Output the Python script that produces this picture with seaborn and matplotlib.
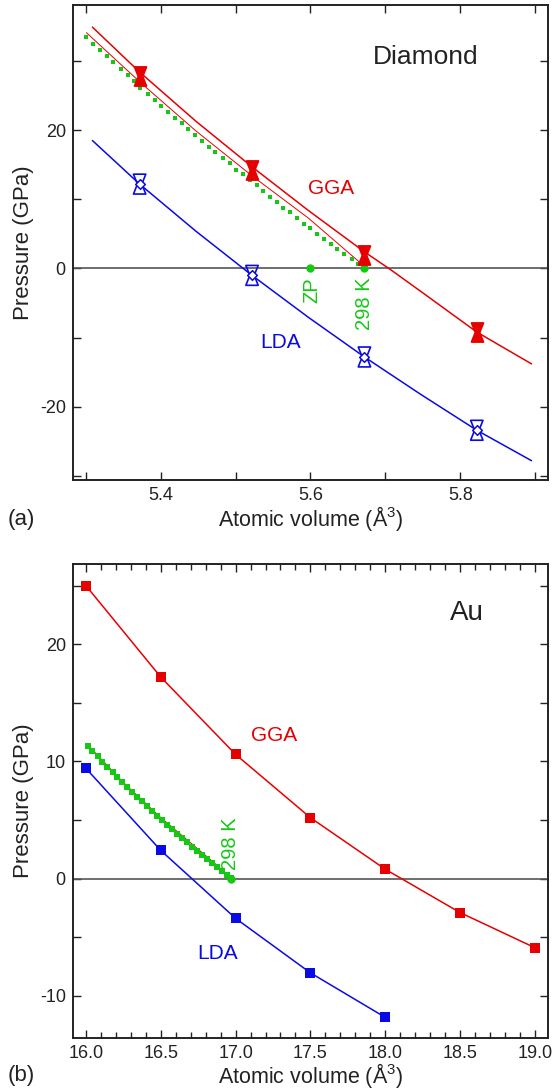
import numpy as np
import matplotlib
matplotlib.use("Agg")
import matplotlib.pyplot as plt
from matplotlib.path import Path
from matplotlib.markers import MarkerStyle
from matplotlib.ticker import MultipleLocator
import seaborn as sns

# ---------------- data: panel (a) Diamond ----------------
DIA_VOL = [5.372, 5.522, 5.672, 5.822]
DIA_GGA_P = [27.9, 14.3, 2.0, -9.2]
DIA_LDA_P = [12.2, -1.0, -12.8, -23.4]

DIA_GGA_CURVE_X = [5.309, 5.372, 5.447, 5.522, 5.597, 5.672, 5.706, 5.747, 5.822, 5.895]
DIA_GGA_CURVE_Y = [34.9, 28.4, 21.3, 14.7, 8.4, 2.4, -0.1, -3.3, -9.2, -13.8]
DIA_LDA_CURVE_X = [5.309, 5.372, 5.447, 5.522, 5.597, 5.672, 5.747, 5.822, 5.895]
DIA_LDA_CURVE_Y = [18.5, 12.2, 5.4, -1.0, -7.05, -12.8, -18.2, -23.4, -27.8]
DIA_THIN_X = [5.301, 5.373, 5.447, 5.522, 5.597, 5.672]
DIA_THIN_Y = [34.1, 26.9, 19.9, 13.4, 7.3, 0.3]

DIA_T_X = [5.300, 5.310, 5.319, 5.328, 5.337, 5.347, 5.356, 5.364, 5.373, 5.383,
           5.392, 5.401, 5.410, 5.419, 5.428, 5.437, 5.446, 5.455, 5.464, 5.473,
           5.483, 5.492, 5.501, 5.510, 5.519, 5.528, 5.537, 5.546, 5.555, 5.564,
           5.573, 5.582, 5.591, 5.600, 5.609, 5.618, 5.627, 5.636, 5.645, 5.655, 5.664]
DIA_T_Y = [33.5, 32.5, 31.6, 30.7, 29.8, 28.8, 28.0, 27.1, 26.1, 25.3,
           24.4, 23.5, 22.7, 21.8, 21.0, 20.1, 19.3, 18.5, 17.6, 16.8,
           16.0, 15.2, 14.3, 13.6, 12.8, 12.0, 11.2, 10.4, 9.6, 8.8,
           8.1, 7.3, 6.5, 5.8, 5.0, 4.3, 3.5, 2.8, 2.1, 1.4, 0.6]
DIA_ZERO_X = [5.600, 5.672]
DIA_ZERO_Y = [0.0, 0.0]

# ---------------- data: panel (b) Au ----------------
AU_GGA_X = [16.0, 16.5, 17.0, 17.5, 18.0, 18.5, 19.0]
AU_GGA_P = [25.0, 17.2, 10.6, 5.2, 0.8, -2.9, -5.9]
AU_LDA_X = [16.0, 16.5, 17.0, 17.5, 18.0]
AU_LDA_P = [9.4, 2.4, -3.4, -8.05, -11.85]
AU_T_X = [16.010, 16.043, 16.077, 16.110, 16.143, 16.177, 16.210, 16.243, 16.276, 16.310,
          16.343, 16.376, 16.410, 16.443, 16.476, 16.510, 16.543, 16.576, 16.610, 16.643,
          16.676, 16.710, 16.743, 16.776, 16.810, 16.843, 16.876, 16.910, 16.943, 16.970]
AU_T_Y = [11.33, 10.88, 10.43, 9.99, 9.54, 9.09, 8.66, 8.25, 7.84, 7.41,
          7.00, 6.58, 6.16, 5.77, 5.38, 4.97, 4.58, 4.20, 3.80, 3.43,
          3.08, 2.72, 2.37, 2.02, 1.66, 1.31, 0.98, 0.64, 0.31, 0.02]
AU_THIN_X = [16.005, 16.25, 16.5, 16.75, 16.97]
AU_THIN_Y = [11.5, 8.2, 5.2, 2.5, 0.1]
AU_ZERO_X = [16.97]
AU_ZERO_Y = [0.0]

# ticks
XT_A = [5.3, 5.4, 5.5, 5.6, 5.7, 5.8, 5.9]
XTL_A = ["", "5.4", "", "5.6", "", "5.8", ""]
YT_A = [-30, -20, -10, 0, 10, 20, 30]
YTL_A = ["", "-20", "", "0", "", "20", ""]
XT_B = [16.0, 16.5, 17.0, 17.5, 18.0, 18.5, 19.0]
XTL_B = ["16.0", "16.5", "17.0", "17.5", "18.0", "18.5", "19.0"]
YT_B = [-10, -5, 0, 5, 10, 15, 20, 25]
YTL_B = ["-10", "", "0", "", "10", "", "20", ""]

RED = "#e60000"
BLUE = "#0a0ae6"
GREEN = "#14c814"
DARK = "#222222"

sns.set_style("ticks")
plt.rcParams["font.family"] = ["Liberation Sans", "DejaVu Sans"]
plt.rcParams["mathtext.fontset"] = "custom"
plt.rcParams["mathtext.rm"] = "Liberation Sans"
plt.rcParams["mathtext.it"] = "Liberation Sans"

fig = plt.figure(figsize=(5.56, 10.92), dpi=100)
ax1 = fig.add_axes([0.1308, 0.5604, 0.8548, 0.4350])
ax2 = fig.add_axes([0.1308, 0.0492, 0.8554, 0.4343])

hg_path = Path([(-0.62, 1), (0.62, 1), (0.22, 0), (0.62, -1), (-0.62, -1), (-0.22, 0), (-0.62, 1)],
               [Path.MOVETO, Path.LINETO, Path.LINETO, Path.LINETO, Path.LINETO,
                Path.LINETO, Path.CLOSEPOLY])
HG = MarkerStyle(hg_path)


def style_axes(ax):
    for s in ax.spines.values():
        s.set_linewidth(1.4)
        s.set_color(DARK)
        s.set_visible(True)
    ax.tick_params(which="major", direction="in", top=True, right=True,
                   length=5.5, width=1.0, color=DARK, labelsize=13,
                   labelcolor=DARK, pad=5)
    ax.tick_params(which="minor", direction="in", top=True, right=True,
                   length=4, width=1.0, color=DARK)
    ax.axhline(0, color="#555555", lw=1.2, zorder=1)


# ---------------- panel (a) ----------------
ax = ax1
style_axes(ax)
sns.lineplot(x=DIA_GGA_CURVE_X, y=DIA_GGA_CURVE_Y, sort=False, estimator=None,
             color=RED, lw=1.1, ax=ax, zorder=2)
sns.lineplot(x=DIA_LDA_CURVE_X, y=DIA_LDA_CURVE_Y, sort=False, estimator=None,
             color=BLUE, lw=1.1, ax=ax, zorder=2)
sns.lineplot(x=DIA_THIN_X, y=DIA_THIN_Y, sort=False, estimator=None,
             color=RED, lw=0.7, ax=ax, zorder=2)
sns.scatterplot(x=DIA_T_X, y=DIA_T_Y, marker="s", s=10, color=GREEN,
                edgecolor=GREEN, linewidth=0, ax=ax, zorder=3)
sns.scatterplot(x=DIA_ZERO_X, y=DIA_ZERO_Y, marker="o", s=36, color=GREEN,
                edgecolor=GREEN, linewidth=0, ax=ax, zorder=4)
sns.scatterplot(x=DIA_VOL, y=DIA_GGA_P, marker=HG, s=185, color=RED,
                edgecolor=RED, linewidth=1.4, ax=ax, zorder=5)
sns.scatterplot(x=DIA_VOL, y=DIA_LDA_P, marker=HG, s=205, color=BLUE,
                facecolor="none", edgecolor=BLUE, linewidth=1.2, ax=ax, zorder=5)
sns.scatterplot(x=DIA_VOL, y=DIA_LDA_P, marker="D", s=24, color="white",
                edgecolor=BLUE, linewidth=1.1, ax=ax, zorder=6)

ax.set_xlim(5.2827, 5.917)
ax.set_ylim(-30.6, 38.1)
ax.set_xticks(XT_A)
ax.set_xticklabels(XTL_A)
ax.set_yticks(YT_A)
ax.set_yticklabels(YTL_A)
ax.set_xlabel("Atomic volume (Å$^3$)", fontsize=15.5, color=DARK)
ax.set_ylabel("Pressure (GPa)", fontsize=16, color=DARK)
ax.xaxis.set_label_coords(0.5, -0.05)
ax.yaxis.set_label_coords(-0.082, 0.5)

ax.text(5.7535, 29.5, "Diamond", fontsize=19, color=DARK, ha="center", va="baseline")
ax.text(5.628, 10.8, "GGA", fontsize=15, color=RED, ha="center", va="baseline")
ax.text(5.56, -11.45, "LDA", fontsize=15, color=BLUE, ha="center", va="baseline")
ax.text(5.6024, -1.3, "ZP", fontsize=14.5, color=GREEN, ha="center", va="top", rotation=90)
ax.text(5.6724, -1.3, "298 K", fontsize=14.5, color=GREEN, ha="center", va="top", rotation=90)

# ---------------- panel (b) ----------------
ax = ax2
style_axes(ax)
sns.lineplot(x=AU_GGA_X, y=AU_GGA_P, sort=False, estimator=None,
             color=RED, lw=1.1, ax=ax, zorder=2)
sns.lineplot(x=AU_LDA_X, y=AU_LDA_P, sort=False, estimator=None,
             color=BLUE, lw=1.1, ax=ax, zorder=2)
sns.lineplot(x=AU_THIN_X, y=AU_THIN_Y, sort=False, estimator=None,
             color=RED, lw=0.7, ax=ax, zorder=2)
sns.scatterplot(x=AU_T_X, y=AU_T_Y, marker="s", s=14, color=GREEN,
                edgecolor=GREEN, linewidth=0, ax=ax, zorder=3)
sns.scatterplot(x=AU_ZERO_X, y=AU_ZERO_Y, marker="o", s=36, color=GREEN,
                edgecolor=GREEN, linewidth=0, ax=ax, zorder=4)
sns.scatterplot(x=AU_GGA_X, y=AU_GGA_P, marker="s", s=42, color=RED,
                edgecolor=RED, linewidth=0, ax=ax, zorder=5)
sns.scatterplot(x=AU_LDA_X, y=AU_LDA_P, marker="s", s=42, color=BLUE,
                edgecolor=BLUE, linewidth=0, ax=ax, zorder=5)

ax.set_xlim(15.911, 19.091)
ax.set_ylim(-13.64, 26.86)
ax.set_xticks(XT_B)
ax.set_xticklabels(XTL_B)
ax.xaxis.set_minor_locator(MultipleLocator(0.1))
ax.set_yticks(YT_B)
ax.set_yticklabels(YTL_B)
ax.set_xlabel("Atomic volume (Å$^3$)", fontsize=15.5, color=DARK)
ax.set_ylabel("Pressure (GPa)", fontsize=16, color=DARK)
ax.xaxis.set_label_coords(0.5, -0.048)
ax.yaxis.set_label_coords(-0.082, 0.5)

ax.text(18.545, 22.1, "Au", fontsize=20, color=DARK, ha="center", va="baseline")
ax.text(17.255, 11.71, "GGA", fontsize=15, color=RED, ha="center", va="baseline")
ax.text(16.878, -6.89, "LDA", fontsize=15, color=BLUE, ha="center", va="baseline")
ax.text(16.966, 0.75, "298 K", fontsize=14.5, color=GREEN, ha="center", va="bottom", rotation=90)

fig.text(0.0144, 1 - 520 / 1092, "(a)", fontsize=16, color=DARK, ha="left", va="center")
fig.text(0.0144, 1 - 1076 / 1092, "(b)", fontsize=16, color=DARK, ha="left", va="center")

fig.savefig("out.png", dpi=100)
